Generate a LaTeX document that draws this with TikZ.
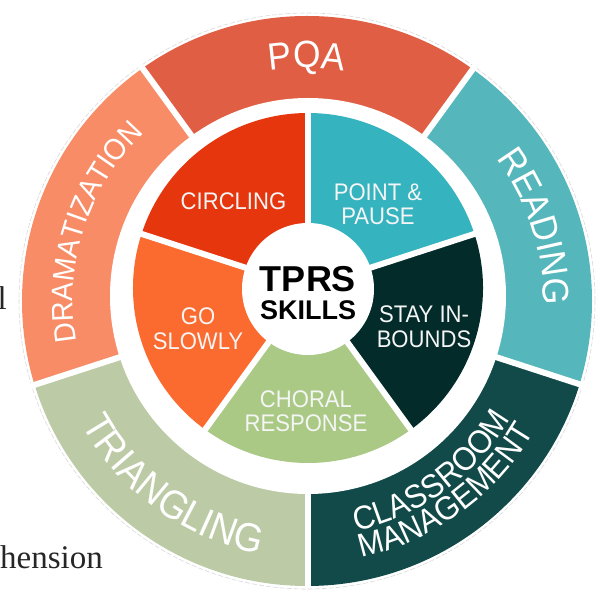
\documentclass[tikz,border=0pt]{standalone}
\usepackage{fontspec}
\setmainfont{Liberation Serif}
\newfontfamily\labfont[FakeStretch=0.93]{Liberation Sans}
\newfontfamily\segfont[FakeStretch=0.92]{Liberation Sans}
\newfontfamily\ctrfont{Liberation Sans}
\usetikzlibrary{decorations.text}
\definecolor{cPQA}{HTML}{E05E43}
\definecolor{cRead}{HTML}{55B7BB}
\definecolor{cClass}{HTML}{124A4A}
\definecolor{cTri}{HTML}{BCCBA6}
\definecolor{cDram}{HTML}{F78C66}
\definecolor{cCirc}{HTML}{E5360E}
\definecolor{cPoint}{HTML}{35B3BF}
\definecolor{cStay}{HTML}{032B2A}
\definecolor{cChoral}{HTML}{A9C985}
\definecolor{cGo}{HTML}{FB6B2F}
\definecolor{txt}{HTML}{F5F5F5}
\tikzset{
  seglabel/.style={text=txt, font=\segfont\fontsize{24}{24.5}\selectfont, align=center, inner sep=0pt},
  ringlabel/.style n args={2}{decorate, decoration={text along path, text align=center, text color=white,
     text={|\labfont\fontsize{#1}{#1}\selectfont|#2}}},
  gapline/.style={white, line width=6pt},
}
\begin{document}
\begin{tikzpicture}[x=1pt,y=1pt]
\useasboundingbox (0,0) rectangle (603,592);
\coordinate (O) at (307,291);
\coordinate (I) at (308,296);
\coordinate (P) at (308,304);
\coordinate (K) at (308,303);
% faint outline
\draw[gray!30, line width=0.6pt, dash pattern=on 5pt off 2pt] (O) circle (288);
% outer ring
\begin{scope}
\clip (O) circle (285);
\fill[cPQA]   (I) -- ++(54:330)  arc[start angle=54,  end angle=126, radius=330] -- cycle;
\fill[cDram]  (I) -- ++(126:330) arc[start angle=126, end angle=198, radius=330] -- cycle;
\fill[cTri]   (I) -- ++(198:330) arc[start angle=198, end angle=270, radius=330] -- cycle;
\fill[cClass] (I) -- ++(270:330) arc[start angle=270, end angle=342, radius=330] -- cycle;
\fill[cRead]  (I) -- ++(342:330) arc[start angle=342, end angle=414, radius=330] -- cycle;
\end{scope}
\fill[white] (I) circle (198);
\foreach \a in {54,126,198,270,342} \draw[gapline] (I) -- ++(\a:292);
% inner pie
\fill[cCirc]   (P) -- ++(90:175)  arc[start angle=90,  end angle=162, radius=175] -- cycle;
\fill[cGo]     (P) -- ++(162:175) arc[start angle=162, end angle=234, radius=175] -- cycle;
\fill[cChoral] (P) -- ++(234:175) arc[start angle=234, end angle=306, radius=175] -- cycle;
\fill[cStay]   (P) -- ++(306:175) arc[start angle=306, end angle=378, radius=175] -- cycle;
\fill[cPoint]  (P) -- ++(18:175)  arc[start angle=18,  end angle=90,  radius=175] -- cycle;
\foreach \a in {18,90,162,234,306} \draw[gapline] (P) -- ++(\a:180);
\fill[white] (K) circle (66);
% ring labels
\path[ringlabel={38}{PQA}] (O) ++(126:233) arc[start angle=126, end angle=54, radius=233];
\path[ringlabel={37}{READING}] (O) ++(54:236.5) arc[start angle=54, end angle=-18, radius=236.5];
\path[ringlabel={30}{DRAMATIZATION}] (O) ++(198:234) arc[start angle=198, end angle=126, radius=234];
\path[ringlabel={40}{TRIANGLING}] (O) ++(198:257) arc[start angle=198, end angle=270, radius=257];
\path[ringlabel={33}{CLASSROOM}] (O) ++(270:235) arc[start angle=270, end angle=342, radius=235];
\path[ringlabel={33}{MANAGEMENT}] (O) ++(270:262) arc[start angle=270, end angle=342, radius=262];
% pie labels
\node[seglabel] (circ) at (233.5,390.5) {CIRCLING};
\node[seglabel] (point) at (378,388) {POINT \&\\PAUSE};
\node[seglabel] (go) at (198,263.5) {GO\\SLOWLY};
\node[seglabel] (stay) at (424,265.5) {STAY IN-\\BOUNDS};
\node[seglabel] (choral) at (306,181) {CHORAL\\RESPONSE};
% hub
\node[anchor=base, inner sep=0pt, font=\ctrfont\bfseries\fontsize{36}{36}\selectfont] (tprs) at (308,300) {TPRS};
\node[anchor=base, inner sep=0pt, font=\ctrfont\bfseries\fontsize{27}{27}\selectfont] (skills) at (308,272) {SKILLS};
% cropped surrounding text
\node[anchor=base west, inner sep=0pt, font=\fontsize{33}{33}\selectfont, text=black!85] (hen) at (0,23) {hension};
\node[anchor=base east, inner sep=0pt, font=\fontsize{33}{33}\selectfont, text=black!85] (ell) at (7,282) {l};
\end{tikzpicture}
\end{document}
